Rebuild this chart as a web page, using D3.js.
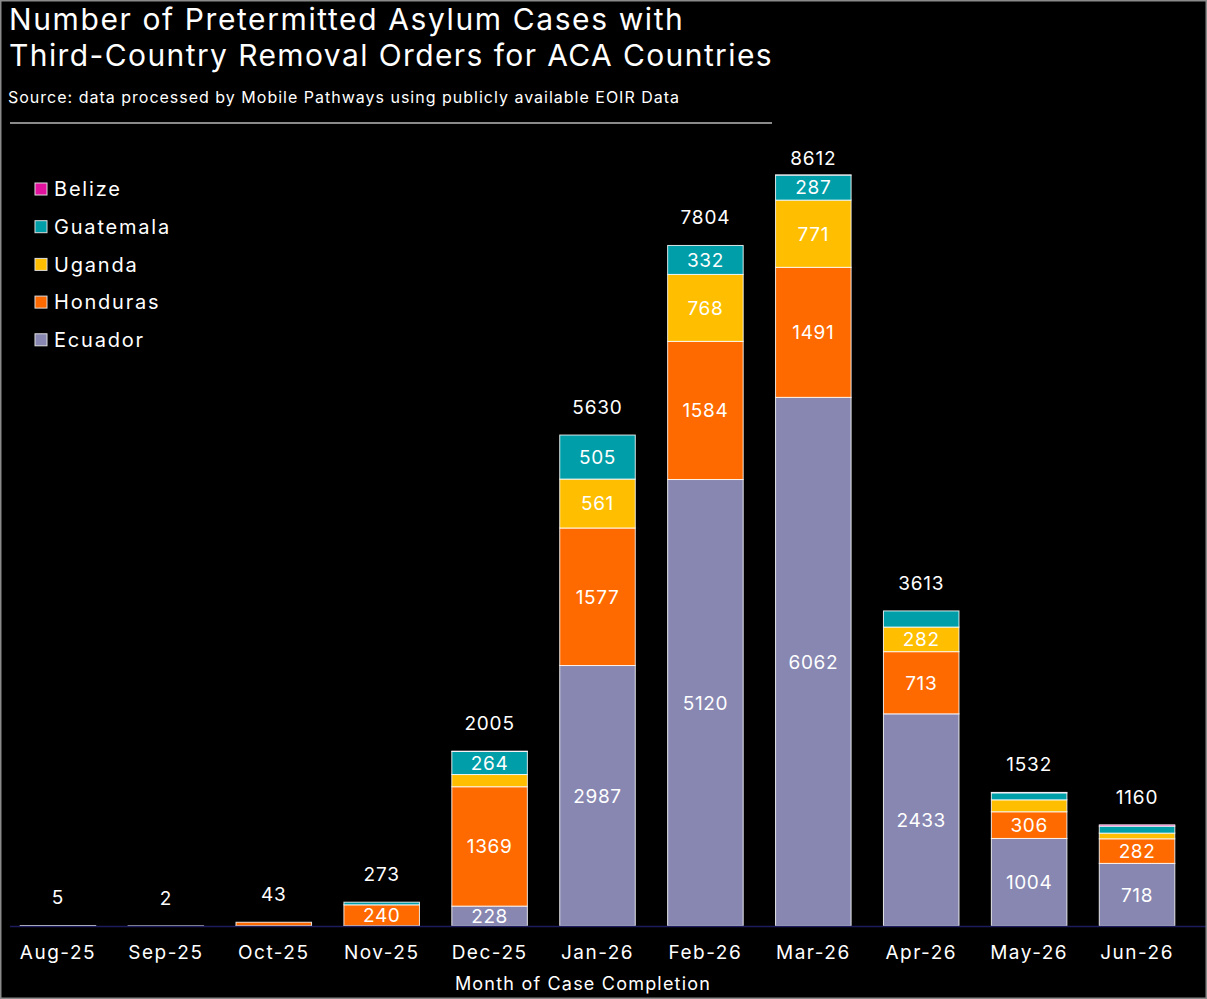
<!DOCTYPE html>
<html>
<head>
<meta charset="utf-8">
<script src="https://cdn.jsdelivr.net/npm/d3@7"></script>
<style>
  html, body { margin: 0; padding: 0; background: #000; }
  svg { display: block; }
  text { font-family: Inter, "Noto Sans", sans-serif; fill: #fff; }
</style>
</head>
<body>
<div id="chart"></div>
<script>
// data
const months = ['Aug-25', 'Sep-25', 'Oct-25', 'Nov-25', 'Dec-25', 'Jan-26', 'Feb-26', 'Mar-26', 'Apr-26', 'May-26', 'Jun-26'];
const ecuador   = [5, 2, 3, 3, 228, 2987, 5120, 6062, 2433, 1004, 718];
const honduras  = [0, 0, 40, 240, 1369, 1577, 1584, 1491, 713, 306, 282];
const uganda    = [0, 0, 0, 0, 140, 561, 768, 771, 282, 137, 65];
const guatemala = [0, 0, 0, 30, 264, 505, 332, 287, 185, 80, 80];
const belize    = [0, 0, 0, 0, 4, 0, 0, 1, 0, 5, 15];

const countries = ['Ecuador', 'Honduras', 'Uganda', 'Guatemala', 'Belize'];
const seriesValues = { Ecuador: ecuador, Honduras: honduras, Uganda: uganda, Guatemala: guatemala, Belize: belize };
const colors = { Ecuador: '#8787b1', Honduras: '#ff6a00', Uganda: '#ffbf00', Guatemala: '#009ea8', Belize: '#e0129e' };

const width = 1207, height = 999;
const baseY = 926, topY = 175;

const rows = months.map((m, i) => {
    const r = { month: m };
    countries.forEach(c => r[c] = seriesValues[c][i]);
    r.total = d3.sum(countries, c => r[c]);
    return r;
});

const svg = d3.select('#chart').append('svg')
    .attr('width', width)
    .attr('height', height);

svg.append('rect')
    .attr('x', 0).attr('y', 0)
    .attr('width', width).attr('height', height)
    .attr('fill', '#000');

// scales
const x = d3.scaleBand()
    .domain(months)
    .range([4, 1191])
    .paddingInner(0.3)
    .paddingOuter(0.15);

const y = d3.scaleLinear()
    .domain([0, d3.max(rows, d => d.total)])
    .range([baseY, topY]);

// title
svg.append('text')
    .attr('x', 9).attr('y', 30)
    .attr('font-size', 30)
    .attr('letter-spacing', 1.6)
    .text('Number of Pretermitted Asylum Cases with');
svg.append('text')
    .attr('x', 9).attr('y', 66)
    .attr('font-size', 30)
    .attr('letter-spacing', 1.4)
    .text('Third-Country Removal Orders for ACA Countries');
svg.append('text')
    .attr('x', 8).attr('y', 103)
    .attr('font-size', 16)
    .attr('letter-spacing', 1.0)
    .text('Source: data processed by Mobile Pathways using publicly available EOIR Data');
svg.append('line')
    .attr('x1', 10).attr('x2', 772)
    .attr('y1', 123).attr('y2', 123)
    .attr('stroke', '#8a8a8a')
    .attr('stroke-width', 2);

// stacked bars
const stack = d3.stack().keys(countries);
const layers = stack(rows);

const layerG = svg.append('g')
    .selectAll('g')
    .data(layers)
    .enter()
    .append('g')
    .attr('fill', d => colors[d.key]);

layerG.selectAll('rect')
    .data(d => d.filter(s => s[1] - s[0] > 0))
    .enter()
    .append('rect')
    .attr('x', d => x(d.data.month))
    .attr('width', x.bandwidth())
    .attr('y', d => y(d[1]))
    .attr('height', d => y(d[0]) - y(d[1]))
    .attr('stroke', 'rgba(255,255,255,0.85)')
    .attr('stroke-width', 1);

// segment labels
layerG.selectAll('text')
    .data(d => d.filter(s => y(s[0]) - y(s[1]) >= 18))
    .enter()
    .append('text')
    .attr('x', d => x(d.data.month) + x.bandwidth() / 2)
    .attr('y', d => (y(d[0]) + y(d[1])) / 2)
    .attr('dy', '0.36em')
    .attr('text-anchor', 'middle')
    .attr('font-size', 19)
    .attr('letter-spacing', 0.6)
    .text(d => d[1] - d[0]);

// baseline
svg.append('line')
    .attr('x1', 10).attr('x2', width)
    .attr('y1', baseY + 0.5).attr('y2', baseY + 0.5)
    .attr('stroke', '#1c1c5c')
    .attr('stroke-width', 1.5);

// totals
svg.append('g')
    .selectAll('text')
    .data(rows)
    .enter()
    .append('text')
    .attr('x', d => x(d.month) + x.bandwidth() / 2)
    .attr('y', d => Math.max(y(d.total) - 28, 158))
    .attr('dy', '0.36em')
    .attr('text-anchor', 'middle')
    .attr('font-size', 19)
    .attr('letter-spacing', 0.8)
    .text(d => d.total);

// x axis
const xAxis = svg.append('g')
    .attr('transform', `translate(0,${baseY})`)
    .call(d3.axisBottom(x).tickSize(0).tickPadding(20));
xAxis.select('.domain').remove();
xAxis.selectAll('text')
    .attr('font-size', 19)
    .attr('letter-spacing', 1.5)
    .attr('fill', '#fff')
    .style('font-family', 'Inter, "Noto Sans", sans-serif');

svg.append('text')
    .attr('x', 583).attr('y', 990)
    .attr('text-anchor', 'middle')
    .attr('font-size', 18)
    .attr('letter-spacing', 1.2)
    .text('Month of Case Completion');

// legend
const legendKeys = ['Belize', 'Guatemala', 'Uganda', 'Honduras', 'Ecuador'];
const legend = svg.append('g')
    .selectAll('g')
    .data(legendKeys)
    .enter()
    .append('g')
    .attr('transform', (d, i) => `translate(35,${189 + i * 37.7})`);

legend.append('rect')
    .attr('x', 0).attr('y', -6)
    .attr('width', 12).attr('height', 12)
    .attr('fill', d => colors[d])
    .attr('stroke', '#ddd')
    .attr('stroke-width', 1);

legend.append('text')
    .attr('x', 19).attr('y', 0)
    .attr('dy', '0.36em')
    .attr('font-size', 20)
    .attr('letter-spacing', 1.8)
    .text(d => d);

// frame
svg.append('rect')
    .attr('x', 0.75).attr('y', 0.75)
    .attr('width', width - 1.5).attr('height', height - 1.5)
    .attr('fill', 'none')
    .attr('stroke', '#8a8a8a')
    .attr('stroke-width', 1.5);
</script>
</body>
</html>
